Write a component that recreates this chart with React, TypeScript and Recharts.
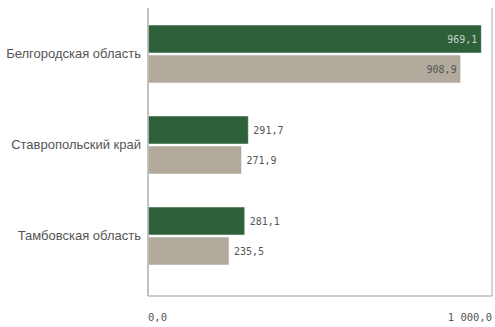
import { BarChart, Bar, XAxis, YAxis, CartesianGrid, LabelList } from 'recharts';

const regions = ['Белгородская область', 'Ставропольский край', 'Тамбовская область'];
const current = [969.1, 291.7, 281.1];
const previous = [908.9, 271.9, 235.5];
const xTicks = [0, 1000];

const data = regions.map((name, i) => ({ name, current: current[i], previous: previous[i] }));

const fmt = (v: number) => {
  const [int, dec] = v.toFixed(1).split('.');
  return int.replace(/\B(?=(\d{3})+(?!\d))/g, ' ') + ',' + dec;
};

const mono = '"DejaVu Sans Mono", monospace';

// value label: inside the bar when it would run off the plot
const makeLabel = (insideColor: string) => (props: any) => {
  const { x, y, width, height, value } = props;
  const inside = value > 800;
  return (
    <text
      x={inside ? x + width - 4 : x + width + 5}
      y={y + height / 2}
      dy={4}
      textAnchor={inside ? 'end' : 'start'}
      fontFamily={mono}
      fontSize={10}
      fill={inside ? insideColor : '#555'}
    >
      {fmt(value)}
    </text>
  );
};

const XTick = (props: any) => {
  const { y, payload } = props;
  const first = payload.value === 0;
  return (
    <text
      x={payload.coordinate}
      y={y + 17}
      textAnchor={first ? 'start' : 'end'}
      fontFamily={mono}
      fontSize={10.5}
      fill="#555"
    >
      {fmt(payload.value)}
    </text>
  );
};

export default function App() {
  return (
    <div style={{ position: 'absolute', left: 0, top: 0, width: 495, height: 327, background: '#fff' }}>
      <BarChart
        width={495}
        height={327}
        data={data}
        layout="vertical"
        margin={{ top: 8, right: 3, left: 0, bottom: 0 }}
        barSize={28}
        barGap={2}
      >
        <CartesianGrid horizontal={false} vertical={true} stroke="#aaa" />
        <XAxis
          type="number"
          domain={[0, 1000]}
          ticks={xTicks}
          height={31}
          tickLine={false}
          axisLine={{ stroke: '#bbb', strokeWidth: 1.5 }}
          tick={<XTick />}
        />
        <YAxis
          type="category"
          dataKey="name"
          width={148}
          padding={{ top: 0, bottom: 15 }}
          tickLine={false}
          axisLine={{ stroke: '#bbb', strokeWidth: 1.5 }}
          tick={{ fontSize: 13, fill: '#555', fontFamily: 'Arial, "Liberation Sans", sans-serif' }}
          tickMargin={1}
        />
        <Bar dataKey="current" fill="#2e6139" stroke="#fff" strokeWidth={0.5} isAnimationActive={false}>
          <LabelList dataKey="current" content={makeLabel('#c9cfc9')} />
        </Bar>
        <Bar dataKey="previous" fill="#b1aa9d" stroke="#fff" strokeWidth={0.5} isAnimationActive={false}>
          <LabelList dataKey="previous" content={makeLabel('#555')} />
        </Bar>
      </BarChart>
    </div>
  );
}
